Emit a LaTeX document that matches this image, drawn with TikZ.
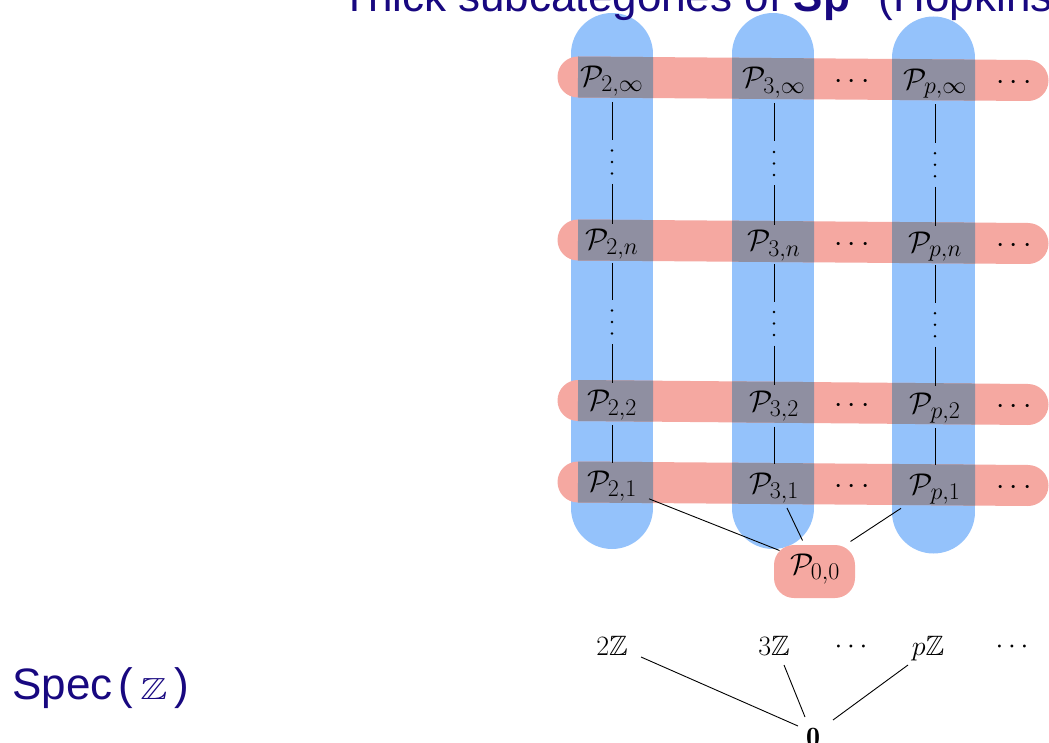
\RequirePackage{fix-cm}
\documentclass[tikz,border=0pt]{standalone}
\usepackage{amssymb}
\DeclareFontFamily{U}{msb}{}
\DeclareFontShape{U}{msb}{m}{n}{<-> msbm10}{}
\usepackage{fontspec}
\setsansfont{Liberation Sans}
\usetikzlibrary{calc}
\DeclareMathSizes{30}{30}{24}{18}
\definecolor{colblue}{RGB}{148,194,251}
\definecolor{rowred}{RGB}{245,168,161}
\definecolor{ovgray}{RGB}{143,143,161}
\definecolor{navy}{RGB}{24,8,128}
\begin{document}
\begin{tikzpicture}[x=1pt,y=-1pt,
  colbar/.style={line width=82pt, draw=colblue, line cap=round},
  rowbar/.style={line width=41pt, draw=rowred, line cap=round},
  ovbar/.style={line width=41pt, draw=ovgray},
  pn/.style={inner sep=0pt, text height=22pt, text depth=8pt, font=\fontsize{30}{36}\selectfont},
  vd/.style={inner sep=0pt, minimum width=4pt, minimum height=27pt},
  zn/.style={inner sep=0pt, text height=20pt, text depth=6pt, font=\fontsize{28}{34}\selectfont},
  edge/.style={draw=black, line width=0.9pt},
  heading/.style={inner sep=0pt, anchor=base west, text=navy, font=\fontsize{44}{52}\selectfont\sffamily},
  blob/.style={fill=rowred, rounded corners=20pt, minimum width=81pt, minimum height=53pt, inner sep=0pt}
]
\useasboundingbox (0,0) rectangle (1049,743);
\clip (0,0) rectangle (1049,743);
% columns
\path[colbar] (612,54) -- (612,508);
\path[colbar] (773,54) -- (773,508);
\path[colbar, line width=83pt] (933.5,58) -- (933.5,512);
% rows
\foreach \ya/\yb in {77/80.5,240/243.5,400.5/404.5,482/485.5}
  \path[rowbar] (578,\ya) -- (1028,\yb);
% overlaps
\foreach \xa/\xb in {571/653,732/814,892/975}{
  \begin{scope}
    \clip (\xa,0) rectangle (\xb,743);
    \foreach \ya/\yb in {77/80.5,240/243.5,400.5/404.5,482/485.5}
      \path[ovbar] (578,\ya) -- (1028,\yb);
  \end{scope}
}
% bottom blob
\node[blob] (p00bg) at (814.5,571.5) {};
% title and label
\node[heading] (title) at (341,11.5) {Thick subcategories of \textbf{Sp}\hspace{0.66em}(Hopkins};
\node[heading] (spec) at (12,699.5) {Spec\hspace{6pt}(\,\resizebox{27pt}{21pt}{$\mathbb{Z}$}\,)};
% row infinity
\node[pn] (a2i) at (612,79.8) {$\mathcal{P}_{2,\infty}$};
\node[pn] (a3i) at (774,81.0) {$\mathcal{P}_{3,\infty}$};
\node[pn] (adi) at (852,81.6) {$\cdots$};
\node[pn] (api) at (935,82.3) {$\mathcal{P}_{p,\infty}$};
\node[pn] (aei) at (1014,82.9) {$\cdots$};
% row n
\node[pn] (a2n) at (612,242.8) {$\mathcal{P}_{2,n}$};
\node[pn] (a3n) at (774,244.0) {$\mathcal{P}_{3,n}$};
\node[pn] (adn) at (852,244.6) {$\cdots$};
\node[pn] (apn) at (935,245.3) {$\mathcal{P}_{p,n}$};
\node[pn] (aen) at (1014,245.9) {$\cdots$};
% row 2
\node[pn] (a22) at (612,403.3) {$\mathcal{P}_{2,2}$};
\node[pn] (a32) at (774,404.7) {$\mathcal{P}_{3,2}$};
\node[pn] (ad2) at (852,405.4) {$\cdots$};
\node[pn] (ap2) at (935,406.2) {$\mathcal{P}_{p,2}$};
\node[pn] (ae2) at (1014,406.9) {$\cdots$};
% row 1
\node[pn] (a21) at (612,484.8) {$\mathcal{P}_{2,1}$};
\node[pn] (a31) at (774,486.0) {$\mathcal{P}_{3,1}$};
\node[pn] (ad1) at (852,486.6) {$\cdots$};
\node[pn] (ap1) at (935,487.3) {$\mathcal{P}_{p,1}$};
\node[pn] (ae1) at (1014,487.9) {$\cdots$};
% P00
\node[pn] (p00) at (815,567.5) {$\mathcal{P}_{0,0}$};
% vertical dots
\node[vd] (v2a) at (612,162) {};
\node[vd] (v2b) at (612,322) {};
\node[vd] (v3a) at (774,163.5) {};
\node[vd] (v3b) at (774,323.5) {};
\node[vd] (vpa) at (935,164.8) {};
\node[vd] (vpb) at (935,324.8) {};
\foreach \v in {v2a,v2b,v3a,v3b,vpa,vpb}
  \foreach \d in {-11.5,0,11.5}
    \fill ($(\v)+(0,\d)$) circle (1.4pt);
% vertical connectors
\foreach \c in {2,3,p}{
  \draw[edge] ($(a\c i)+(0,22)$) -- ($(v\c a)+(0,-22)$);
  \draw[edge] ($(v\c a)+(0,22)$) -- ($(a\c n)+(0,-19)$);
  \draw[edge] ($(a\c n)+(0,20)$) -- ($(v\c b)+(0,-22)$);
  \draw[edge] ($(v\c b)+(0,22)$) -- ($(a\c 2)+(0,-20)$);
  \draw[edge] ($(a\c 2)+(0,22)$) -- ($(a\c 1)+(0,-22)$);
}
% to P00
\draw[edge] ($(a21)+(37,14)$) -- ($(p00bg)+(-35,-21)$);
\draw[edge] ($(a31)+(13,22)$) -- ($(p00bg)+(-12,-31)$);
\draw[edge] ($(ap1)+(-34,21)$) -- ($(p00bg)+(36,-30)$);
% bottom: Spec Z
\node[zn] (z2) at (612,648) {$2\mathbb{Z}$};
\node[zn] (z3) at (774,648) {$3\mathbb{Z}$};
\node[zn] (zd) at (851,646) {$\cdots$};
\node[zn] (zp) at (928,648) {$p\mathbb{Z}$};
\node[zn] (ze) at (1012,646) {$\cdots$};
\node[zn] (z0) at (813,739) {$\mathbf{0}$};
\draw[edge] ($(z2)+(29,9)$) -- ($(z0)+(-15,-13)$);
\draw[edge] ($(z3)+(10,17)$) -- ($(z0)+(-8,-22)$);
\draw[edge] ($(zp)+(-20,17)$) -- ($(z0)+(20,-19)$);
\end{tikzpicture}
\end{document}
